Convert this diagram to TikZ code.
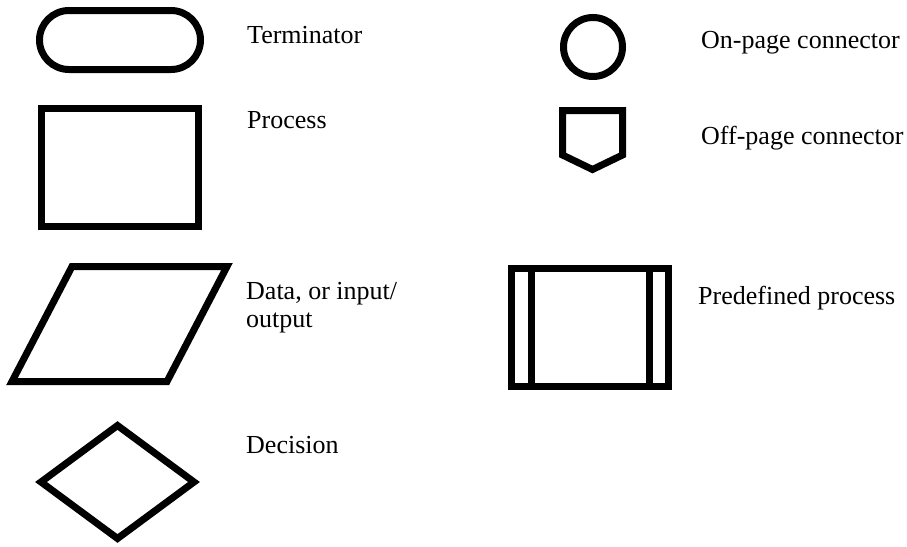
\documentclass[tikz,border=0pt]{standalone}
\usepackage{fontspec}
\setmainfont{Liberation Serif}
\usetikzlibrary{shapes.geometric}
\begin{document}
\begin{tikzpicture}[x=1pt,y=-1pt,
  sym/.style={draw=black,line width=7pt,inner sep=0pt,outer sep=0pt,fill=none},
  lbl/.style={anchor=base west,inner sep=0pt,font=\fontsize{26}{28}\selectfont,align=left}]
\useasboundingbox[fill=white] (0,0) rectangle (907,546);
% terminator
\node[sym,rectangle,rounded corners=29.5pt,minimum width=161pt,minimum height=59pt] (term) at (120,40) {};
% process
\node[sym,rectangle,minimum width=157pt,minimum height=118pt] (proc) at (120,167.5) {};
% data parallelogram
\coordinate (d1) at (72,266.5);
\coordinate (d2) at (227,266.5);
\coordinate (d3) at (167,381.5);
\coordinate (d4) at (12,381.5);
\draw[sym] (d1) -- (d2) -- (d3) -- (d4) -- cycle;
% decision
\node[sym,diamond,minimum width=153pt,minimum height=113pt] (dec) at (117.5,482) {};
% on-page connector
\node[sym,circle,minimum size=59pt] (onp) at (593,47) {};
% off-page connector
\coordinate (o1) at (562.5,110.5);
\coordinate (o2) at (622.5,110.5);
\coordinate (o3) at (622.5,155);
\coordinate (o4) at (592.5,169.5);
\coordinate (o5) at (562.5,155);
\draw[sym] (o1) -- (o2) -- (o3) -- (o4) -- (o5) -- cycle;
% predefined process
\node[sym,rectangle,minimum width=157pt,minimum height=118pt] (pre) at (590,327.5) {};
\coordinate (p1) at (531.5,268.5);
\coordinate (p2) at (531.5,386.5);
\coordinate (p3) at (649.5,268.5);
\coordinate (p4) at (649.5,386.5);
\draw[line width=7pt] (p1) -- (p2);
\draw[line width=7pt] (p3) -- (p4);
% labels
\node[lbl] (tterm) at (247,43) {Terminator};
\node[lbl] (tproc) at (247,128) {Process};
\node[lbl] (tdata) at (246,327) {Data, or input/\\output};
\node[lbl] (tdec) at (246,453) {Decision};
\node[lbl] (tonp) at (701,48) {On-page connector};
\node[lbl] (toff) at (701,144) {Off-page connector};
\node[lbl] (tpre) at (698,304) {Predefined process};
\end{tikzpicture}
\end{document}
